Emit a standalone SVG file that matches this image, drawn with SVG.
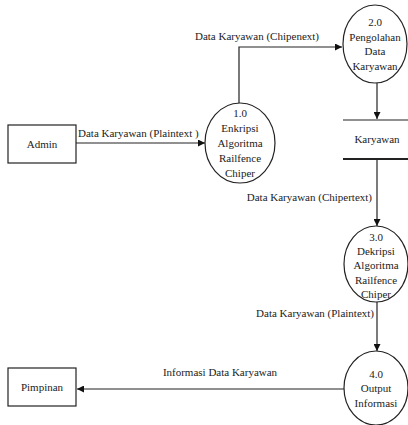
<svg xmlns="http://www.w3.org/2000/svg" width="408" height="425" viewBox="0 0 408 425" font-family="'Liberation Serif','DejaVu Serif','Times New Roman',serif">
<style>
text{font-family:"Liberation Serif","DejaVu Serif","Times New Roman",serif;font-size:11px;fill:#222}
.c{text-anchor:middle}
.e{text-anchor:end}
.shape{fill:#fff;stroke:#222;stroke-width:1.2}
.ln{fill:none;stroke:#222;stroke-width:1.2}
</style>
<defs>
<marker id="ah" viewBox="0 0 10 10" refX="10" refY="5" markerWidth="7" markerHeight="7" markerUnits="userSpaceOnUse" orient="auto">
<path d="M0,0 L10,5 L0,10 z" fill="#111"/>
</marker>
</defs>
<rect width="408" height="425" fill="#fff"/>
<g id="connectors">
<path class="ln" d="M76,143 H205" marker-end="url(#ah)"/>
<text x="78" y="137">Data Karyawan (Plaintext )</text>
<path class="ln" d="M239,103 V47 H342" marker-end="url(#ah)"/>
<text class="c" x="257" y="40">Data Karyawan (Chipenext)</text>
<path class="ln" d="M377,83 V119" marker-end="url(#ah)"/>
<path class="ln" d="M377,159 V226" marker-end="url(#ah)"/>
<text class="e" x="372" y="201">Data Karyawan (Chipertext)</text>
<path class="ln" d="M377,302 V351" marker-end="url(#ah)"/>
<text class="e" x="374" y="317">Data Karyawan (Plaintext)</text>
<path class="ln" d="M345,389 H77" marker-end="url(#ah)"/>
<text class="c" x="220" y="376">Informasi Data Karyawan</text>
</g>
<g id="admin">
<rect class="shape" x="8" y="125" width="68" height="38"/>
<text class="c" x="42" y="148">Admin</text>
</g>
<g id="p1">
<ellipse class="shape" cx="240" cy="143" rx="35" ry="40"/>
<text class="c" x="240" y="117">1.0</text>
<text class="c" x="240" y="132">Enkripsi</text>
<text class="c" x="240" y="147">Algoritma</text>
<text class="c" x="240" y="162">Railfence</text>
<text class="c" x="240" y="177">Chiper</text>
</g>
<g id="p2">
<ellipse class="shape" cx="375" cy="44" rx="32" ry="39"/>
<text class="c" x="375" y="26">2.0</text>
<text class="c" x="375" y="41">Pengolahan</text>
<text class="c" x="375" y="55">Data</text>
<text class="c" x="375" y="70">Karyawan</text>
</g>
<g id="store">
<path class="ln" d="M343,120 H408"/>
<path fill="none" stroke="#222" stroke-width="1.8" d="M343,159 H408"/>
<text class="c" x="377" y="143">Karyawan</text>
</g>
<g id="p3">
<ellipse class="shape" cx="376" cy="264" rx="32" ry="38"/>
<text class="c" x="376" y="241">3.0</text>
<text class="c" x="376" y="255">Dekripsi</text>
<text class="c" x="376" y="269">Algoritma</text>
<text class="c" x="376" y="284">Railfence</text>
<text class="c" x="376" y="298">Chiper</text>
</g>
<g id="p4">
<ellipse class="shape" cx="376" cy="388" rx="32" ry="37"/>
<text class="c" x="376" y="378">4.0</text>
<text class="c" x="376" y="392">Output</text>
<text class="c" x="376" y="407">Informasi</text>
</g>
<g id="pimpinan">
<rect class="shape" x="8" y="368" width="68" height="38"/>
<text class="c" x="42" y="391">Pimpinan</text>
</g>
</svg>
